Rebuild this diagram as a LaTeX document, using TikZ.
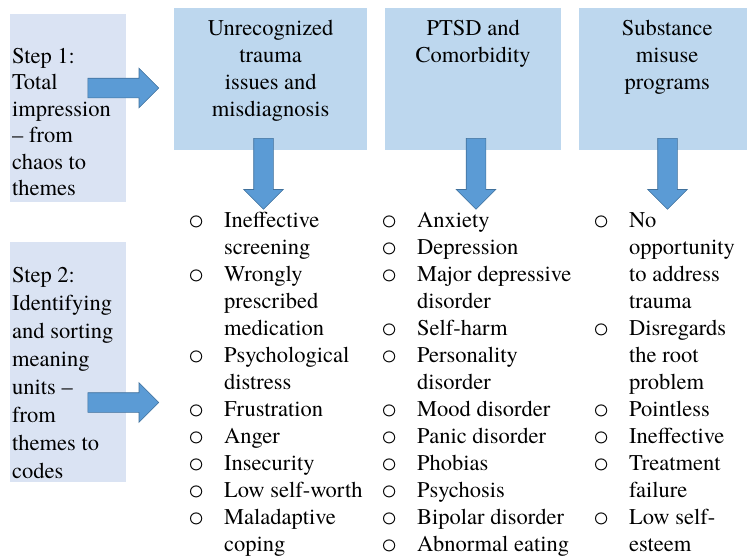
\documentclass[tikz,border=0pt]{standalone}
\usepackage{fontspec}
\setmainfont{texgyretermes-regular.otf}
\newfontfamily\timesfont{texgyretermes-regular.otf}
\newfontfamily\bulletfont{texgyrecursor-regular.otf}
\usetikzlibrary{shapes.arrows,positioning}
\definecolor{themeblue}{HTML}{BDD7EE}
\definecolor{steplav}{HTML}{DAE3F3}
\definecolor{arrowblue}{HTML}{5B9BD5}
\definecolor{arrowedge}{HTML}{41719C}
\newcommand{\bul}{{\bulletfont\fontsize{27}{27}\selectfont o}}
\tikzset{
  themebox/.style={rectangle, fill=themeblue, inner sep=0pt, anchor=north west},
  stepbox/.style={rectangle, fill=steplav, inner sep=0pt, anchor=north west},
  blockarrow/.style={single arrow, fill=arrowblue, draw=arrowedge, line width=0.6pt,
    inner xsep=0pt, inner ysep=9.5pt, single arrow head extend=10pt, minimum height=71pt, anchor=tail},
  bodytext/.style={inner sep=0pt, anchor=base west, font=\timesfont\fontsize{22.5}{27}\selectfont},
  headtext/.style={inner sep=0pt, anchor=base, font=\timesfont\fontsize{22.5}{27}\selectfont}
}

\begin{document}
\begin{tikzpicture}[x=1pt,y=-1pt]
    \useasboundingbox (0,0) rectangle (747,555);
    \def\gap{19.9pt}

    % Step boxes on the left
    \node[stepbox, minimum width=116pt, minimum height=188pt] (step1) at (10,14) {};
    \node[stepbox, minimum width=116pt, minimum height=240pt] (step2) at (10,242) {};
    \node[bodytext, font=\timesfont\fontsize{22.5}{26.5}\selectfont] (step1text) at (12,63)
      {\begin{tabular}[t]{@{}l@{}}Step 1:\\Total\\impression\\– from\\chaos to\\themes\end{tabular}};
    \node[bodytext, font=\timesfont\fontsize{22.5}{28}\selectfont] (step2text) at (12,282)
      {\begin{tabular}[t]{@{}l@{}}Step 2:\\Identifying\\and sorting\\meaning\\units –\\from\\themes to\\codes\end{tabular}};

    % Theme boxes on top
    \node[themebox, minimum width=193pt, minimum height=142pt] (trauma) at (174,8) {};
    \node[themebox, minimum width=176pt, minimum height=142pt] (ptsd) at (385,8) {};
    \node[themebox, minimum width=176pt, minimum height=142pt] (substance) at (579,8) {};
    \node[headtext] (traumatext) at (trauma.north |- 0,35.5)
      {\begin{tabular}[t]{@{}c@{}}Unrecognized\\trauma\\issues and\\misdiagnosis\end{tabular}};
    \node[headtext] (ptsdtext) at (ptsd.north |- 0,35.5)
      {\begin{tabular}[t]{@{}c@{}}PTSD and\\Comorbidity\end{tabular}};
    \node[headtext] (substancetext) at (substance.north |- 0,35.5)
      {\begin{tabular}[t]{@{}c@{}}Substance\\misuse\\programs\end{tabular}};

    % Block arrows
    \node[blockarrow] (arrow1) at (87.5,88) {};
    \node[blockarrow] (arrow2) at (87.5,402.5) {};
    \foreach \name/\xx in {down1/263.5, down2/476, down3/667.5} {
      \node[blockarrow, rotate=-90] (\name) at (\xx,138) {};
    }

    % Lists of codes
    \node[bodytext] (list1) at (187.9,227.5)
      {\begin{tabular}[t]{@{}l@{\hspace{\gap}}l@{}}
        \bul & Ineffective\\ & screening\\
        \bul & Wrongly\\ & prescribed\\ & medication\\
        \bul & Psychological\\ & distress\\
        \bul & Frustration\\
        \bul & Anger\\
        \bul & Insecurity\\
        \bul & Low self-worth\\
        \bul & Maladaptive\\ & coping
      \end{tabular}};
    \node[bodytext] (list2) at (380.9,227.5)
      {\begin{tabular}[t]{@{}l@{\hspace{\gap}}l@{}}
        \bul & Anxiety\\
        \bul & Depression\\
        \bul & Major depressive\\ & disorder\\
        \bul & Self-harm\\
        \bul & Personality\\ & disorder\\
        \bul & Mood disorder\\
        \bul & Panic disorder\\
        \bul & Phobias\\
        \bul & Psychosis\\
        \bul & Bipolar disorder\\
        \bul & Abnormal eating
      \end{tabular}};
    \node[bodytext] (list3) at (592.9,227.5)
      {\begin{tabular}[t]{@{}l@{\hspace{\gap}}l@{}}
        \bul & No\\ & opportunity\\ & to address\\ & trauma\\
        \bul & Disregards\\ & the root\\ & problem\\
        \bul & Pointless\\
        \bul & Ineffective\\
        \bul & Treatment\\ & failure\\
        \bul & Low self-\\ & esteem
      \end{tabular}};
\end{tikzpicture}
\end{document}
